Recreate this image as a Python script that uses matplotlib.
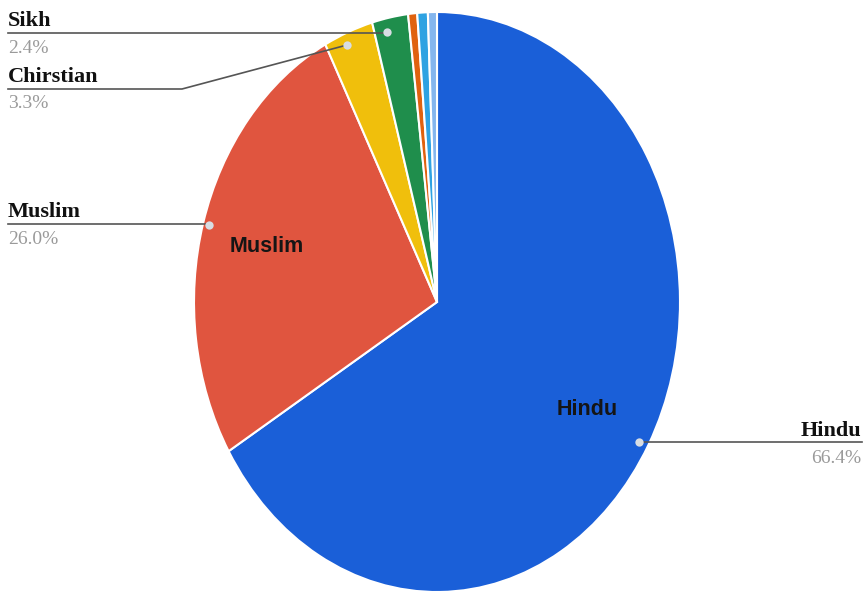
import matplotlib
matplotlib.use("Agg")
import matplotlib.pyplot as plt

# Data
categories = ["Hindu", "Muslim", "Chirstian", "Sikh", "Other 1", "Other 2", "Other 3"]
values = [66.4, 26.0, 3.3, 2.4, 0.6, 0.7, 0.6]
colors = ["#1a5fd8", "#e0553f", "#f0bf0c", "#1f8e4c", "#e0620f", "#2ea2e2", "#84b6ee"]
outer_labels = ["Hindu", "Muslim", "Chirstian", "Sikh"]
outer_pcts = ["66.4%", "26.0%", "3.3%", "2.4%"]

W, H = 867, 595
fig = plt.figure(figsize=(W / 100, H / 100), dpi=100)

# Pie axes positioned in pixel space (ellipse: taller than wide)
cx, cy, rx, ry = 437, 302, 243, 290
ax = fig.add_axes([(cx - rx) / W, (H - cy - ry) / H, 2 * rx / W, 2 * ry / H])
wedges, _ = ax.pie(values, colors=colors, startangle=90, counterclock=False,
                   wedgeprops=dict(edgecolor="white", linewidth=1.5))
ax.set_aspect("auto")
ax.set_xlim(-1, 1)
ax.set_ylim(-1, 1)
ax.axis("off")

# Inside labels
ax.text(-0.7, 0.19, "Muslim", ha="center", va="center", fontsize=15.5,
        fontweight="bold", family="Liberation Sans", color="#151515")
ax.text(0.62, -0.37, "Hindu", ha="center", va="center", fontsize=15.5,
        fontweight="bold", family="Liberation Sans", color="#151515")

# Overlay axes in pixel coordinates for callouts
ov = fig.add_axes([0, 0, 1, 1])
ov.set_xlim(0, W)
ov.set_ylim(H, 0)
ov.axis("off")
ov.patch.set_alpha(0)

line_kw = dict(color="#555555", linewidth=1.2, zorder=3)
dot_kw = dict(marker="o", markersize=6, markerfacecolor="#d8dde3",
              markeredgecolor="none", linestyle="none", zorder=4)
title_kw = dict(fontsize=16, fontweight="bold", family="Liberation Serif",
                color="#111111", va="baseline")
pct_kw = dict(fontsize=14, family="Liberation Serif", color="#9a9a9a", va="top")

# Sikh
ov.plot([8, 387], [33, 33], **line_kw)
ov.plot([387], [32], **dot_kw)
ov.text(8, 26, outer_labels[3], ha="left", **title_kw)
ov.text(8, 40, outer_pcts[3], ha="left", **pct_kw)

# Christian
ov.plot([8, 182, 347], [89, 89, 45], **line_kw)
ov.plot([347], [45], **dot_kw)
ov.text(8, 82, outer_labels[2], ha="left", **title_kw)
ov.text(8, 95, outer_pcts[2], ha="left", **pct_kw)

# Muslim
ov.plot([8, 209], [224, 224], **line_kw)
ov.plot([209], [225], **dot_kw)
ov.text(8, 217, outer_labels[1], ha="left", **title_kw)
ov.text(8, 231, outer_pcts[1], ha="left", **pct_kw)

# Hindu
ov.plot([639, 862], [442, 442], **line_kw)
ov.plot([639], [442], **dot_kw)
ov.text(861, 436, outer_labels[0], ha="right", **title_kw)
ov.text(861, 450, outer_pcts[0], ha="right", **pct_kw)

fig.savefig("out.png", dpi=100, facecolor="white")
